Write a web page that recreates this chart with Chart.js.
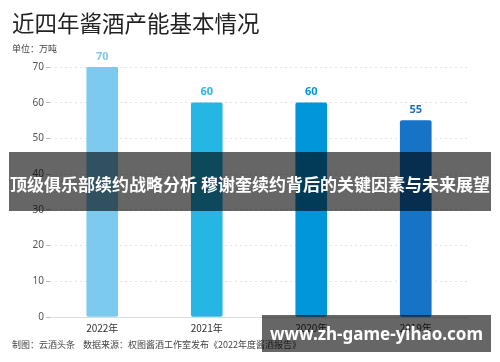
<!DOCTYPE html>
<html lang="zh">
  <head>
    <meta charset="UTF-8" />
    <title>近四年酱酒产能基本情况</title>
    <script src="https://cdn.jsdelivr.net/npm/chart.js"></script>
    <style>
      body {
        margin: 0;
        background: #fff;
        font-family: "Noto Sans CJK SC", "Noto Sans", sans-serif;
      }
      .wrap {
        position: relative;
        width: 500px;
        height: 362px;
        overflow: hidden;
      }
      #capacityChart {
        position: absolute;
        left: 0;
        top: 0;
      }
      .title {
        position: absolute;
        left: 12px;
        top: 8px;
        font-size: 22.5px;
        color: #222;
        line-height: 28px;
      }
      .unit {
        position: absolute;
        left: 12px;
        top: 42px;
        font-size: 9px;
        color: #444;
        line-height: 14px;
      }
      .footer {
        position: absolute;
        left: 12px;
        top: 338px;
        font-size: 9px;
        color: #444;
        line-height: 14px;
        white-space: pre;
      }
      /* overlays seen on the picture */
      .banner {
        position: absolute;
        left: 9px;
        top: 152px;
        width: 482px;
        height: 59px;
        background: rgba(0, 0, 0, 0.6);
      }
      .banner-text {
        position: absolute;
        left: 0;
        width: 500px;
        top: 172px;
        text-align: center;
        color: #fff;
        font-weight: bold;
        font-size: 17px;
        line-height: 24px;
        white-space: nowrap;
      }
      .mark {
        position: absolute;
        left: 262px;
        top: 315px;
        width: 229px;
        height: 37px;
        background: rgba(0, 0, 0, 0.6);
        color: #fff;
        font-family: "Noto Sans", sans-serif;
        font-weight: bold;
        font-size: 17px;
        line-height: 37px;
        text-align: center;
        white-space: nowrap;
      }
    </style>
  </head>
  <body>
    <div class="wrap">
      <canvas id="capacityChart" width="500" height="362"></canvas>
      <div class="title">近四年酱酒产能基本情况</div>
      <div class="unit">单位：万吨</div>
      <div class="footer">制图：云酒头条    数据来源：权图酱酒工作室发布《2022年度酱酒报告》</div>
      <div class="banner"></div>
      <div class="banner-text">顶级俱乐部续约战略分析 穆谢奎续约背后的关键因素与未来展望</div>
      <div class="mark">www.zh-game-yihao.com</div>
    </div>

    <script>
      const years = ["2022年", "2021年", "2020年", "2019年"];
      const capacity = [70, 60, 60, 55];
      const barColors = ["#7ccbef", "#25b6e4", "#0096d9", "#1673c6"];
      const yTicks = [0, 10, 20, 30, 40, 50, 60, 70];

      // value labels above each bar, same colour as the bar
      const valueLabels = {
        id: "valueLabels",
        afterDatasetsDraw(chart) {
          const ctx = chart.ctx;
          const meta = chart.getDatasetMeta(0);
          ctx.save();
          ctx.font = "bold 11px 'Noto Sans', sans-serif";
          ctx.textAlign = "center";
          ctx.textBaseline = "bottom";
          meta.data.forEach((bar, i) => {
            ctx.fillStyle = barColors[i];
            ctx.fillText(capacity[i], bar.x, bar.y - 5);
          });
          ctx.restore();
        },
      };

      new Chart(document.getElementById("capacityChart"), {
        type: "bar",
        data: {
          labels: years,
          datasets: [
            {
              data: capacity,
              backgroundColor: barColors,
              barThickness: 31,
              borderRadius: 2,
              borderSkipped: false,
            },
          ],
        },
        options: {
          responsive: false,
          animation: false,
          layout: { padding: { top: 67, right: 32, bottom: 0, left: 0 } },
          plugins: {
            legend: { display: false },
            tooltip: { enabled: false },
          },
          scales: {
            x: {
              grid: { display: false, drawTicks: false },
              border: { display: true, color: "#ddd", width: 1 },
              ticks: {
                color: "#333",
                padding: 5,
                font: { size: 10, family: "'Noto Sans CJK SC', sans-serif" },
              },
              afterFit(scale) {
                scale.height = 45;
              },
            },
            y: {
              min: 0,
              max: 70,
              afterBuildTicks(scale) {
                scale.ticks = yTicks.map((v) => ({ value: v }));
              },
              grid: {
                color: "#e3e3e3",
                borderDash: [2, 3],
                tickLength: 4,
                tickBorderDash: [],
                tickColor: "#bbb",
              },
              border: { display: false, dash: [2, 3] },
              ticks: {
                color: "#555",
                padding: 2,
                font: { size: 10, family: "'Noto Sans', sans-serif" },
              },
              afterFit(scale) {
                scale.width = 50;
              },
            },
          },
        },
        plugins: [valueLabels],
      });
    </script>
  </body>
</html>
